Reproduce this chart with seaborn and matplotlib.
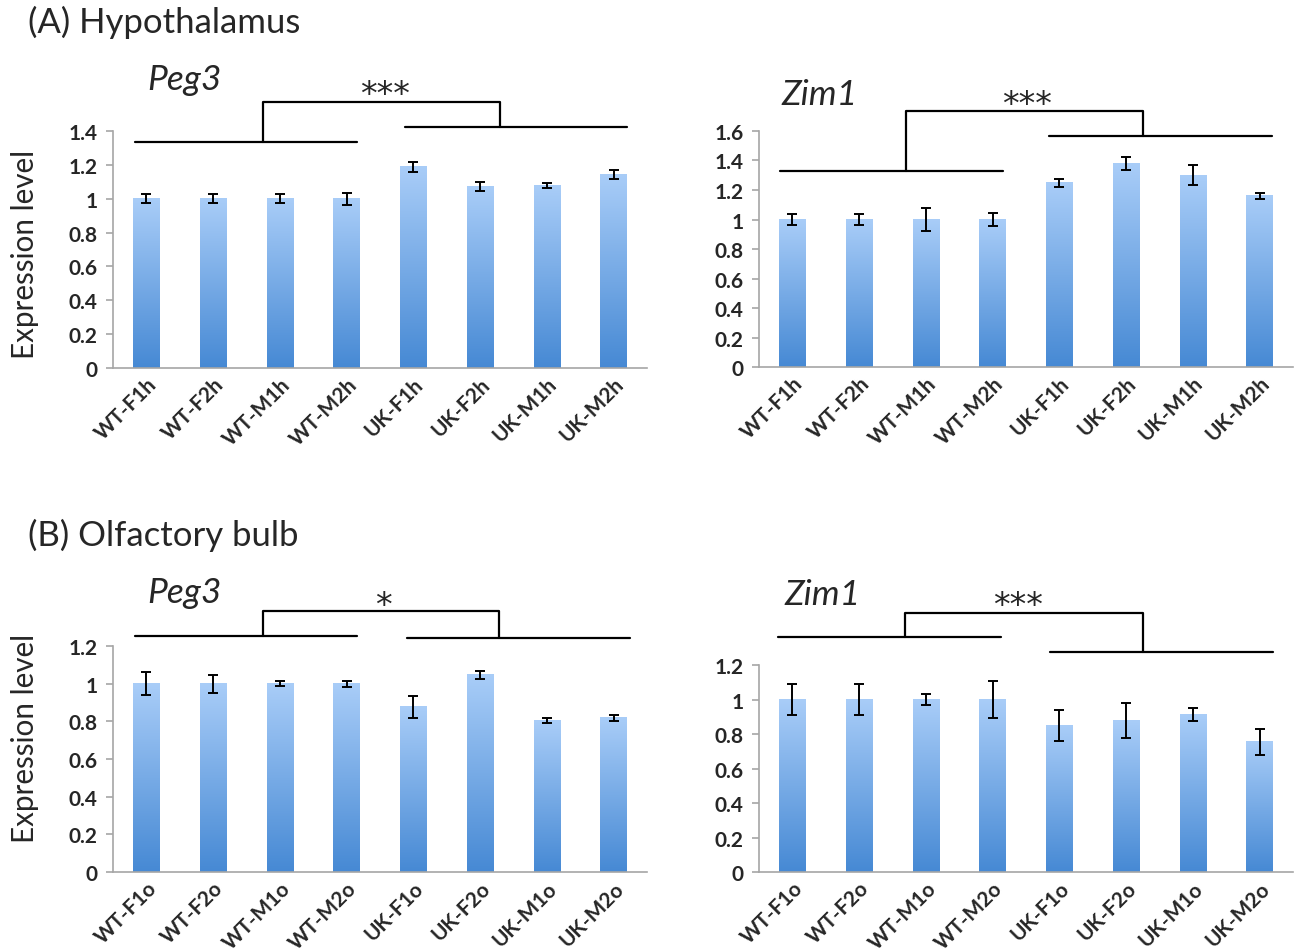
import numpy as np
import pandas as pd
import matplotlib
matplotlib.use("Agg")
import matplotlib.pyplot as plt
import matplotlib.transforms as mtransforms
from matplotlib.colors import LinearSegmentedColormap
import seaborn as sns

sns.set_style("white")
plt.rcParams['font.family'] = ['Lato', 'DejaVu Sans']

# data
labels_h = ["WT-F1h", "WT-F2h", "WT-M1h", "WT-M2h", "UK-F1h", "UK-F2h", "UK-M1h", "UK-M2h"]
labels_o = ["WT-F1o", "WT-F2o", "WT-M1o", "WT-M2o", "UK-F1o", "UK-F2o", "UK-M1o", "UK-M2o"]

peg3_h = [1.0, 1.0, 1.0, 1.0, 1.188, 1.073, 1.079, 1.143]
peg3_h_err = [0.028, 0.028, 0.028, 0.035, 0.03, 0.027, 0.016, 0.029]
zim1_h = [1.0, 1.0, 1.0, 1.0, 1.249, 1.38, 1.30, 1.16]
zim1_h_err = [0.04, 0.04, 0.08, 0.045, 0.028, 0.045, 0.068, 0.023]
peg3_o = [1.0, 1.0, 1.0, 1.0, 0.877, 1.047, 0.805, 0.819]
peg3_o_err = [0.061, 0.047, 0.013, 0.016, 0.058, 0.022, 0.012, 0.017]
zim1_o = [1.0, 1.0, 1.0, 1.0, 0.85, 0.878, 0.915, 0.755]
zim1_o_err = [0.092, 0.092, 0.033, 0.108, 0.09, 0.103, 0.037, 0.074]

grey = '#a6a6a6'
cmap = LinearSegmentedColormap.from_list('bar', ['#4689d4', '#a9cdf8'])
grad = np.linspace(0, 1, 256).reshape(-1, 1)

fig = plt.figure(figsize=(12.98, 9.53), dpi=100)


def px(dx, dy):
    return mtransforms.ScaledTranslation(dx / 100, dy / 100, fig.dpi_scale_trans)


def panel(rect, labels, vals, errs, ymax, gene, sig, lines, bracket, star_xy, gene_xy):
    ax = fig.add_axes(rect)
    df = pd.DataFrame({'group': labels, 'value': vals})
    sns.barplot(data=df, x='group', y='value', ax=ax, width=0.4,
                color='#4689d4', errorbar=None)
    # excel-style vertical gradient fill
    for p in list(ax.patches):
        x0, y0 = p.get_x(), p.get_y()
        w, h = p.get_width(), p.get_height()
        ax.imshow(grad, extent=(x0, x0 + w, y0, y0 + h), aspect='auto',
                  cmap=cmap, origin='lower', zorder=2)
        p.set_visible(False)
    ax.errorbar(range(len(vals)), vals, yerr=errs, fmt='none', ecolor='black',
                elinewidth=1.4, capsize=3.8, capthick=1.4, zorder=3)
    ax.set_xlim(-0.5, len(vals) - 0.5)
    ax.set_ylim(0, ymax)
    ax.set_xlabel('')
    ax.set_ylabel('')
    yt = np.round(np.arange(0, ymax + 0.01, 0.2), 1)
    ax.set_yticks(yt)
    ax.set_yticklabels([f"{t:g}" for t in yt], fontsize=15, fontweight='bold')
    ax.set_xticks(range(len(labels)))
    ax.set_xticklabels(labels, rotation=45, ha='right', va='top',
                       rotation_mode='anchor', fontsize=15, fontweight='bold')
    for t in ax.get_xticklabels():
        t.set_transform(t.get_transform() + px(19, -9))
    ax.set_xticks(np.arange(-0.5, len(vals), 1), minor=True)
    ax.tick_params(axis='x', which='major', length=0, pad=4)
    ax.tick_params(axis='x', which='minor', length=6, color=grey, width=1.2, direction='out')
    ax.tick_params(axis='y', length=5, color=grey, width=1.2, direction='out', pad=6, left=True)
    sns.despine(ax=ax)
    for s in ['left', 'bottom']:
        ax.spines[s].set_color(grey)
        ax.spines[s].set_linewidth(1.2)
    # significance bracket
    for (xa, xb, yy) in lines:
        ax.plot([xa, xb], [yy, yy], color='black', lw=1.6, clip_on=False)
    xl, xr, ytop, yl, yr = bracket
    ax.plot([xl, xl, xr, xr], [yl, ytop, ytop, yr], color='black', lw=1.6, clip_on=False)
    st = ax.text(star_xy[0], star_xy[1], sig, ha='center', va='center', fontsize=24,
                 family='DejaVu Sans', clip_on=False)
    st.set_transform(ax.transData + px(0, -9))
    ax.text(gene_xy[0], gene_xy[1], gene, ha='left', va='center', fontsize=25.5,
            style='italic', clip_on=False)
    return ax


panel([0.0871, 0.6128, 0.4114, 0.2487], labels_h, peg3_h, peg3_h_err, 1.4, 'Peg3', '***',
      [(-0.17, 3.16, 1.335), (3.87, 7.2, 1.424)], (1.75, 5.3, 1.571, 1.335, 1.424),
      (3.57, 1.67), (0.02, 1.71))
panel([0.5848, 0.6138, 0.4114, 0.2477], labels_h, zim1_h, zim1_h_err, 1.6, 'Zim1', '***',
      [(-0.19, 3.16, 1.329), (3.85, 7.18, 1.566)], (1.70, 5.25, 1.736, 1.329, 1.566),
      (3.51, 1.84), (-0.16, 1.85))
panel([0.0871, 0.0839, 0.4114, 0.2371], labels_o, peg3_o, peg3_o_err, 1.2, 'Peg3', '*',
      [(-0.17, 3.16, 1.253), (3.9, 7.24, 1.243)], (1.75, 5.28, 1.386, 1.253, 1.243),
      (3.55, 1.466), (0.02, 1.487))
panel([0.5848, 0.0839, 0.4114, 0.2172], labels_o, zim1_o, zim1_o_err, 1.2, 'Zim1', '***',
      [(-0.21, 3.12, 1.362), (3.86, 7.2, 1.275)], (1.69, 5.25, 1.50, 1.362, 1.275),
      (3.38, 1.595), (-0.12, 1.61))

fig.text(28 / 1298, 1 - 22 / 953, '(A) Hypothalamus', fontsize=25, ha='left', va='center')
fig.text(28 / 1298, 1 - 535 / 953, '(B) Olfactory bulb', fontsize=25, ha='left', va='center')
fig.text(25 / 1298, 1 - 254 / 953, 'Expression level', fontsize=21.3, rotation=90,
         ha='center', va='center')
fig.text(25 / 1298, 1 - 738 / 953, 'Expression level', fontsize=21.3, rotation=90,
         ha='center', va='center')

fig.savefig('out.png', dpi=100)
